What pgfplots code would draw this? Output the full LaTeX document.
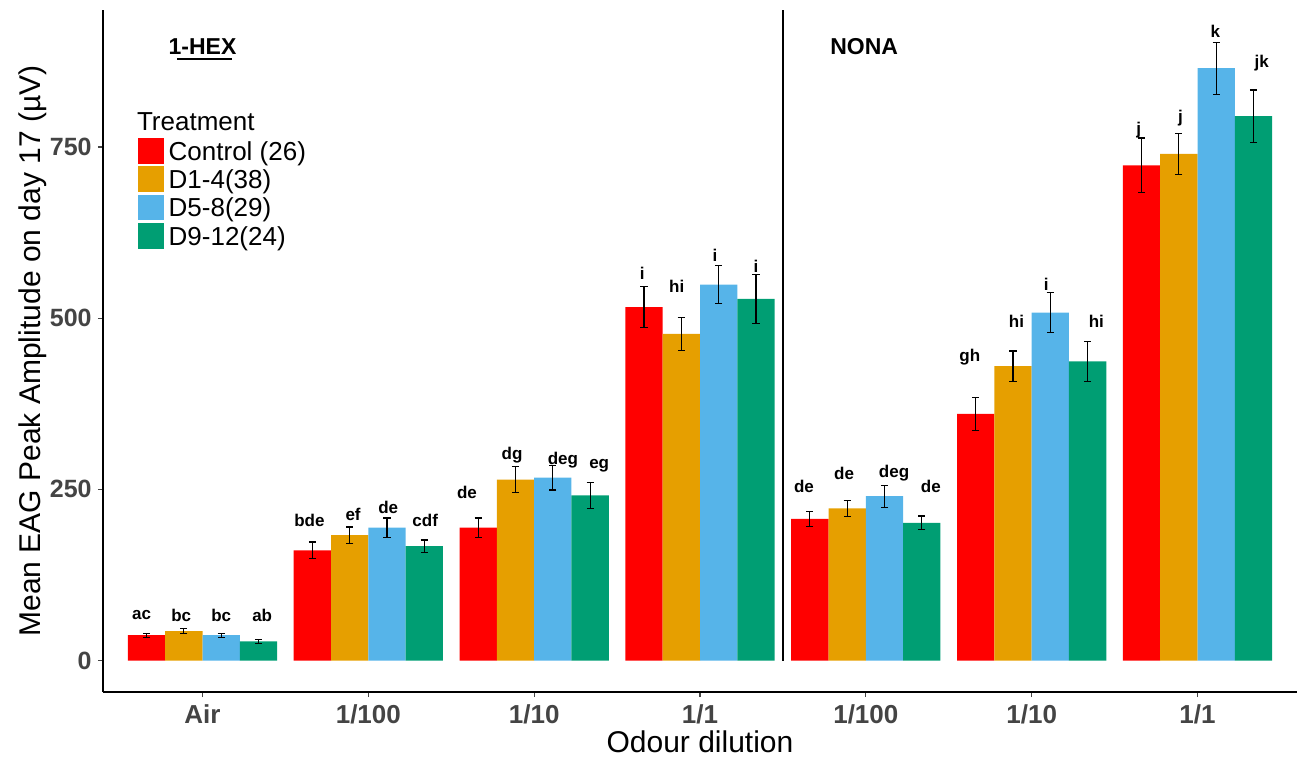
\documentclass[border=0pt]{standalone}
\usepackage{pgfplots}
\pgfplotsset{compat=1.18}
\usepackage{pgfplotstable}
\usepackage{fontspec}
\setmainfont{Liberation Sans}
\definecolor{cR}{HTML}{FF0000}
\definecolor{cO}{HTML}{E69F00}
\definecolor{cB}{HTML}{56B4E9}
\definecolor{cG}{HTML}{009E73}
\definecolor{tk}{HTML}{444444}

\pgfplotstableread{
x y e
0 37 3
1 161 12
2 194 14
3 516 30
4 207 11
5 360 24
6 723 40
}\ctrl
\pgfplotstableread{
x y e
0 43 4
1 183 12
2 264 19
3 477 24
4 222 12
5 430 22
6 740 30
}\dA
\pgfplotstableread{
x y e
0 37 3
1 194 14
2 267 18
3 549 28
4 240 16
5 508 29
6 865 38
}\dB
\pgfplotstableread{
x y e
0 28 3
1 167 9
2 241 19
3 528 36
4 201 10
5 437 29
6 795 38
}\dC

\pgfplotsset{
  mybar/.style={ybar, bar width=0.225, bar shift=0pt, draw=none, forget plot,
    error bars/y dir=both, error bars/y explicit,
    error bars/error bar style={draw=black, line width=0.6bp},
    error bars/error mark=-,
    error bars/error mark options={rotate=90, draw=black, line width=0.6bp, mark size=1.8bp}},
}
\tikzset{lab/.style={font=\fontsize{8.5bp}{10bp}\selectfont\bfseries, inner sep=0pt, text=black}}

\begin{document}
\begin{tikzpicture}
\useasboundingbox (0,0) rectangle (650bp,383bp);
\begin{axis}[
  at={(51.5bp,37bp)}, anchor=south west,
  scale only axis, width=597bp, height=341bp,
  xmin=-0.6, xmax=6.6, ymin=-46, ymax=950,
  enlargelimits=false, clip=false,
  axis x line*=bottom, axis y line*=left,
  axis line style={black, line width=0.6bp},
  xtick={0,...,6}, xticklabels={Air,1/100,1/10,1/1,1/100,1/10,1/1},
  ytick={0,250,500,750},
  tick align=outside, major tick length=2.5bp,
  tick style={tk, line width=0.6bp},
  /pgf/number format/assume math mode=true,
  xticklabel style={font=\fontsize{13bp}{15bp}\selectfont\bfseries, text=tk, inner sep=3.5bp},
  yticklabel style={font=\fontsize{12.5bp}{15bp}\selectfont\bfseries, text=tk, inner sep=3bp},
  xlabel={Odour dilution},
  ylabel={Mean EAG Peak Amplitude on day 17 (µV)},
  label style={font=\fontsize{15bp}{18bp}\selectfont},
  xlabel style={at={(axis description cs:0.5,-0.073)}, anchor=center},
  ylabel style={at={(axis description cs:-0.059,0.5)}, anchor=center},
  legend style={at={(axis description cs:0.0293,0.8123)}, anchor=north west,
    draw=none, fill=none, inner sep=0pt, outer sep=0pt,
    row sep=1.3bp, column sep=2.5bp,
    font=\fontsize{13bp}{15bp}\selectfont,
    nodes={inner sep=0pt, anchor=west, text height=10bp, text depth=0.6bp}},
  legend cell align=left,
  legend image code/.code={\fill[#1] (0bp,-6.42bp) rectangle (12.85bp,6.42bp);},
]
\addplot[fill=cR, mybar] table[x expr=\thisrow{x}-0.3375, y=y, y error=e]{\ctrl};
\addplot[fill=cO, mybar] table[x expr=\thisrow{x}-0.1125, y=y, y error=e]{\dA};
\addplot[fill=cB, mybar] table[x expr=\thisrow{x}+0.1125, y=y, y error=e]{\dB};
\addplot[fill=cG, mybar] table[x expr=\thisrow{x}+0.3375, y=y, y error=e]{\dC};

\addplot[black, line width=0.6bp, forget plot] coordinates {(3.5,0) (3.5,950)};

\addlegendimage{fill=cR, draw=none}\addlegendentry{Control (26)}
\addlegendimage{fill=cO, draw=none}\addlegendentry{D1-4(38)}
\addlegendimage{fill=cB, draw=none}\addlegendentry{D5-8(29)}
\addlegendimage{fill=cG, draw=none}\addlegendentry{D9-12(24)}

\node[anchor=west, inner sep=0pt, font=\fontsize{13bp}{15bp}\selectfont] at (axis description cs:0.0282,0.8362) {Treatment};

\node[font=\fontsize{11.5bp}{13bp}\selectfont\bfseries, inner sep=0pt] at (axis cs:0,896) {1-HEX};
\draw[black, line width=1bp] (axis description cs:0.062,0.9277) -- (axis description cs:0.108,0.9277);
\node[font=\fontsize{11.5bp}{13bp}\selectfont\bfseries, inner sep=0pt] at (axis cs:3.99,896) {NONA};

% significance letters
\node[lab] at (axis cs:-0.367,66) {ac};
\node[lab] at (axis cs:0.645,205) {bde};
\node[lab] at (axis cs:1.595,245) {de};
\node[lab] at (axis cs:2.652,565) {i};
\node[lab] at (axis cs:3.627,254) {de};
\node[lab] at (axis cs:4.627,443) {gh};
\node[lab] at (axis cs:5.646,775) {j};

\node[lab] at (axis cs:-0.128,66) {bc};
\node[lab] at (axis cs:0.908,214) {ef};
\node[lab] at (axis cs:1.867,300) {dg};
\node[lab] at (axis cs:2.86,546) {hi};
\node[lab] at (axis cs:3.869,273) {de};
\node[lab] at (axis cs:4.908,495) {hi};
\node[lab] at (axis cs:5.898,792) {j};

\node[lab] at (axis cs:0.113,66) {bc};
\node[lab] at (axis cs:1.12,224) {de};
\node[lab] at (axis cs:2.173,292) {deg};
\node[lab] at (axis cs:3.09,592) {i};
\node[lab] at (axis cs:4.17,273) {deg};
\node[lab] at (axis cs:5.088,550) {i};
\node[lab] at (axis cs:6.107,919) {k};

\node[lab] at (axis cs:0.36,66) {ab};
\node[lab] at (axis cs:1.343,205) {cdf};
\node[lab] at (axis cs:2.392,284) {eg};
\node[lab] at (axis cs:3.337,576) {i};
\node[lab] at (axis cs:4.392,254) {de};
\node[lab] at (axis cs:5.39,495) {hi};
\node[lab] at (axis cs:6.387,872) {jk};
\end{axis}
\end{tikzpicture}
\end{document}
